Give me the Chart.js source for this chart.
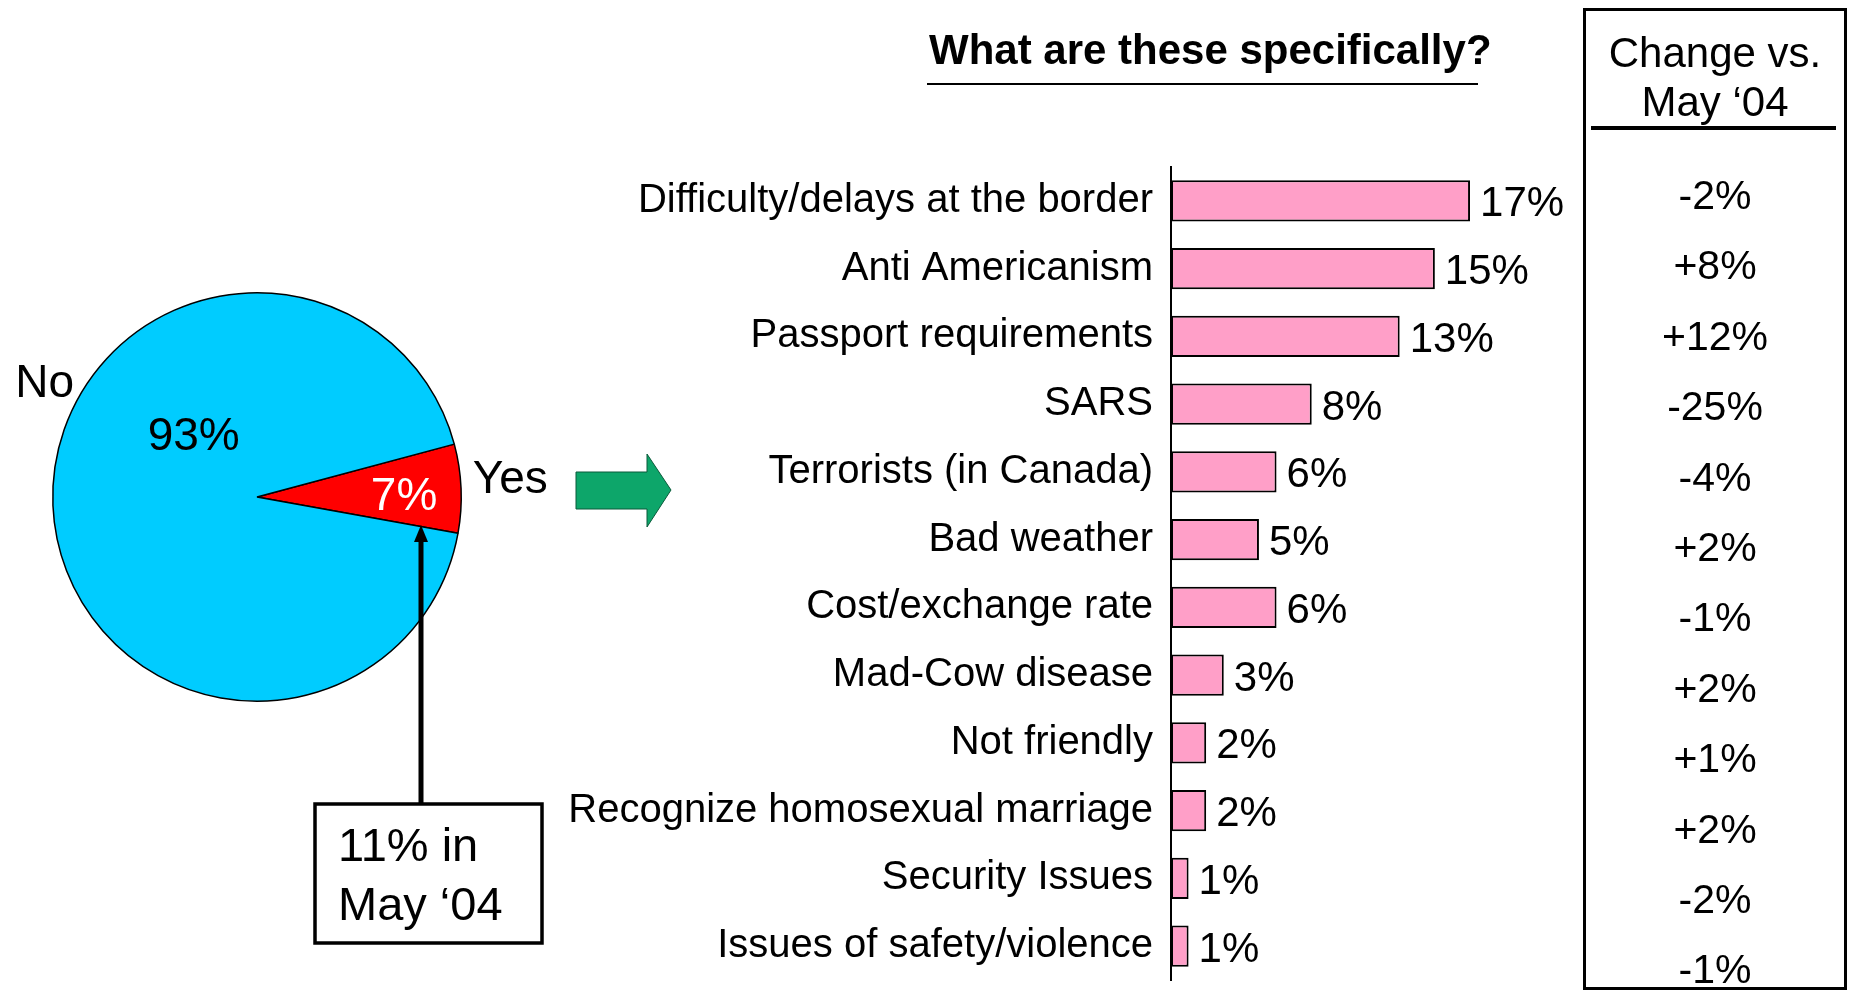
<!DOCTYPE html>
<html>
<head>
<meta charset="utf-8">
<script src="https://cdn.jsdelivr.net/npm/chart.js@4.4.1/dist/chart.umd.min.js"></script>
<style>
  html, body { margin: 0; padding: 0; background: #fff; }
  body { width: 1851px; height: 994px; position: relative; overflow: hidden; font-family: "Liberation Sans", Arial, sans-serif; color: #000; }
  #pieCanvas { position: absolute; left: 0; top: 250px; }
  #barCanvas { position: absolute; left: 560px; top: 0; }
  .title { position: absolute; left: 929px; top: 24px; font-size: 42px; font-weight: bold; line-height: 52px; white-space: nowrap; }
  .title-rule { position: absolute; left: 927px; top: 83px; width: 551px; height: 2px; background: #000; }
  .change-box { position: absolute; left: 1583px; top: 8px; width: 264px; height: 982px; border: 3.5px solid #000; box-sizing: border-box; }
  .change-head { position: absolute; left: 1583px; width: 264px; top: 28px; text-align: center; font-size: 42px; line-height: 49px; }
  .change-rule { position: absolute; left: 1591px; top: 126px; width: 245px; height: 4px; background: #000; }
  .change-val { position: absolute; left: 1583px; width: 264px; text-align: center; font-size: 41px; line-height: 48px; }
</style>
</head>
<body>
<canvas id="pieCanvas" width="700" height="720"></canvas>
<canvas id="barCanvas" width="1100" height="1100"></canvas>
<div class="title">What are these specifically?</div>
<div class="title-rule"></div>
<div class="change-box"></div>
<div class="change-head">Change vs.<br>May ‘04</div>
<div class="change-rule"></div>
<script>
// pie: concerns about travelling to Canada
const pieLabels = ["Yes", "No"];
const pieValues = [7, 93];
const pieColors = ["#FF0000", "#00CCFF"];
const yesMay04 = "11% in";

// bars: what are these specifically
const categories = [
  "Difficulty/delays at the border",
  "Anti Americanism",
  "Passport requirements",
  "SARS",
  "Terrorists (in Canada)",
  "Bad weather",
  "Cost/exchange rate",
  "Mad-Cow disease",
  "Not friendly",
  "Recognize homosexual marriage",
  "Security Issues",
  "Issues of safety/violence"
];
const mentionPct = [17, 15, 13, 8, 6, 5, 6, 3, 2, 2, 1, 1];
const changeVsMay04 = ["-2%", "+8%", "+12%", "-25%", "-4%", "+2%", "-1%", "+2%", "+1%", "+2%", "-2%", "-1%"];

const FONT = '"Liberation Sans", Arial, sans-serif';

document.addEventListener("DOMContentLoaded", () => {
  // change column (text rows)
  changeVsMay04.forEach((v, i) => {
    const el = document.createElement("div");
    el.className = "change-val";
    el.style.top = (195 + i * 70.4 - 24) + "px";
    el.textContent = v;
    document.body.appendChild(el);
  });

  const pieExtras = {
    id: "pieExtras",
    afterDraw(chart) {
      const { ctx } = chart;
      const arc = chart.getDatasetMeta(0).data[0];
      const cx = arc.x, cy = arc.y, r = arc.outerRadius;
      ctx.save();
      ctx.font = `46px ${FONT}`;
      ctx.textAlign = "center";
      ctx.textBaseline = "middle";
      ctx.fillStyle = "#000";
      ctx.fillText(pieLabels[1], cx - 1.04 * r, cy - 0.55 * r);
      ctx.fillText(pieValues[1] + "%", cx - 0.31 * r, cy - 0.29 * r);
      ctx.fillText(pieLabels[0], cx + 1.24 * r, cy - 0.08 * r);
      ctx.fillStyle = "#fff";
      ctx.fillText(pieValues[0] + "%", cx + 0.72 * r, cy);

      // callout arrow up to the Yes slice
      const ax = 421, tipY = 275, boxTop = 554;
      ctx.strokeStyle = "#000";
      ctx.lineWidth = 5;
      ctx.beginPath();
      ctx.moveTo(ax, boxTop);
      ctx.lineTo(ax, tipY + 14);
      ctx.stroke();
      ctx.fillStyle = "#000";
      ctx.beginPath();
      ctx.moveTo(ax, tipY);
      ctx.lineTo(ax - 7, tipY + 17);
      ctx.lineTo(ax + 7, tipY + 17);
      ctx.closePath();
      ctx.fill();

      // callout box
      ctx.lineWidth = 3.5;
      ctx.fillStyle = "#fff";
      ctx.fillRect(315, boxTop, 227, 139);
      ctx.strokeRect(315, boxTop, 227, 139);
      ctx.fillStyle = "#000";
      ctx.textAlign = "left";
      ctx.font = `47px ${FONT}`;
      ctx.fillText(yesMay04, 338, 598);
      ctx.fillText("May ‘04", 338, 657);

      // green block arrow
      ctx.fillStyle = "#0DA66A";
      ctx.strokeStyle = "#0a5a3a";
      ctx.lineWidth = 1;
      ctx.beginPath();
      ctx.moveTo(576, 222);
      ctx.lineTo(647, 222);
      ctx.lineTo(647, 204);
      ctx.lineTo(671, 240);
      ctx.lineTo(647, 277);
      ctx.lineTo(647, 259);
      ctx.lineTo(576, 259);
      ctx.closePath();
      ctx.fill();
      ctx.stroke();
      ctx.restore();
    }
  };

  new Chart(document.getElementById("pieCanvas").getContext("2d"), {
    type: "pie",
    data: {
      labels: pieLabels,
      datasets: [{ data: pieValues, backgroundColor: pieColors, borderColor: "#000", borderWidth: 1.5 }]
    },
    options: {
      responsive: false,
      animation: false,
      rotation: 75,
      layout: { padding: { left: 52, top: 42, right: 238, bottom: 268 } },
      plugins: { legend: { display: false }, tooltip: { enabled: false } }
    },
    plugins: [pieExtras]
  });

  const barValueLabels = {
    id: "barValueLabels",
    afterDatasetsDraw(chart) {
      const { ctx } = chart;
      ctx.save();
      ctx.font = `42px ${FONT}`;
      ctx.textAlign = "left";
      ctx.textBaseline = "middle";
      ctx.fillStyle = "#000";
      chart.getDatasetMeta(0).data.forEach((bar, i) => {
        ctx.fillText(mentionPct[i] + "%", bar.x + 10, bar.y + 4);
      });
      ctx.restore();
    }
  };

  new Chart(document.getElementById("barCanvas").getContext("2d"), {
    type: "bar",
    data: {
      labels: categories,
      datasets: [{
        data: mentionPct,
        backgroundColor: "#FF9FC8",
        borderColor: "#000",
        borderWidth: 2,
        borderSkipped: false,
        categoryPercentage: 1,
        barPercentage: 0.61
      }]
    },
    options: {
      indexAxis: "y",
      responsive: false,
      animation: false,
      layout: { padding: { top: 167, bottom: 120, right: 102, left: 0 } },
      plugins: { legend: { display: false }, tooltip: { enabled: false } },
      scales: {
        x: { display: false, min: 0, max: 22 },
        y: {
          afterFit: (scale) => { scale.width = 611; },
          grid: { display: false, drawTicks: false },
          border: { display: true, color: "#000", width: 2 },
          ticks: { color: "#000", font: { family: FONT, size: 40 }, padding: 18 }
        }
      }
    },
    plugins: [barValueLabels]
  });
});
</script>
</body>
</html>
